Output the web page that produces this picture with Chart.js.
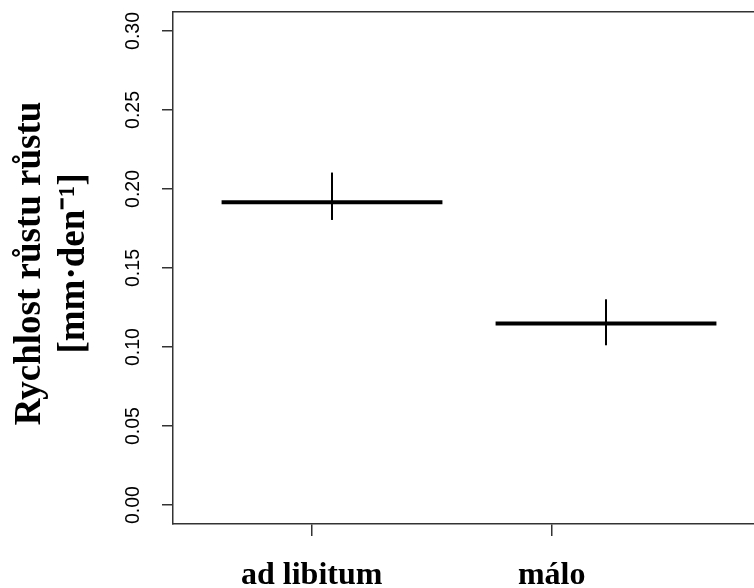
<!DOCTYPE html>
<html><head><meta charset="utf-8">
<script src="https://cdn.jsdelivr.net/npm/chart.js@4/dist/chart.umd.min.js"></script>
<style>html,body{margin:0;padding:0;overflow:hidden;background:#fff}#wrap{width:800px;height:588px}</style>
</head><body><div id="wrap"><canvas id="c"></canvas></div>
<script>
const categories = ['ad libitum', 'málo'];
const means = [0.1916, 0.1148];
const upper = [0.2104, 0.1302];
const lower = [0.1804, 0.1011];
const yTickValues = [0, 0.05, 0.10, 0.15, 0.20, 0.25, 0.30];
const yTickLabels = ['0.00', '0.05', '0.10', '0.15', '0.20', '0.25', '0.30'];
const yTitle = [' Rychlost růstu růstu', ' [mm·den⁻¹]'];

const HALF = 0.403;
const AXIS_COLOR = '#333';
const yLo = 0, yHi = 0.3, yPad = 0.04 * (yHi - yLo);

const datasets = [];
categories.forEach((c, i) => {
  datasets.push({
    data: [{x: i - HALF, y: means[i]}, {x: i + HALF, y: means[i]}],
    xAxisID: 'xm', yAxisID: 'y',
    borderColor: '#000', borderWidth: 4, pointRadius: 0, fill: false
  });
  datasets.push({
    data: [{x: i, y: lower[i]}, {x: i, y: upper[i]}],
    xAxisID: 'xm', yAxisID: 'y',
    borderColor: '#000', borderWidth: 2, pointRadius: 0, fill: false
  });
});

function noPad(s) { s.paddingLeft = 0; s.paddingRight = 0; s.paddingTop = 0; s.paddingBottom = 0; }

new Chart(document.getElementById('c'), {
  type: 'line',
  data: { datasets },
  options: {
    responsive: true, maintainAspectRatio: false, animation: false,
    layout: { padding: { top: 12, left: 0, right: 0, bottom: 0 } },
    plugins: { legend: { display: false }, tooltip: { enabled: false } },
    scales: {
      x: {
        type: 'linear', position: 'bottom', min: -0.578, max: 2.0345,
        afterBuildTicks: s => { s.ticks = categories.map((c, i) => ({ value: i })); },
        afterFit: s => { s.height = 64; noPad(s); },
        grid: { display: true, drawOnChartArea: false, drawTicks: true, tickLength: 12, color: AXIS_COLOR, lineWidth: 1.5 },
        border: { display: true, color: AXIS_COLOR, width: 1.5 },
        ticks: {
          autoSkip: false, maxRotation: 0, minRotation: 0, padding: 21, color: '#000',
          font: { family: "'Liberation Serif', 'Times New Roman', serif", size: 32, weight: 'bold' },
          callback: v => categories[Math.round(v)]
        }
      },
      xm: {
        type: 'linear', display: false, min: -0.5803, max: 1.708
      },
      x2: {
        type: 'linear', position: 'top',
        afterFit: s => { s.height = 0; noPad(s); },
        grid: { display: false, drawTicks: false, tickLength: 0 },
        border: { display: true, color: AXIS_COLOR, width: 1.5 },
        ticks: { display: false }
      },
      y: {
        type: 'linear', position: 'left', min: yLo - yPad, max: yHi + yPad,
        afterBuildTicks: s => { s.ticks = yTickValues.map(v => ({ value: v })); },
        afterFit: s => { s.width = 173; noPad(s); },
        grid: { display: true, drawOnChartArea: false, drawTicks: true, tickLength: 11, color: AXIS_COLOR, lineWidth: 1.5 },
        border: { display: true, color: AXIS_COLOR, width: 1.5 },
        ticks: {
          autoSkip: false, minRotation: 90, maxRotation: 90, crossAlign: 'center', padding: 9, color: '#000',
          font: { family: "'Liberation Sans', Arial, Helvetica, sans-serif", size: 19.5 },
          callback: (v, idx) => yTickLabels[idx]
        },
        title: {
          display: true, text: yTitle, color: '#000',
          padding: { top: 8, bottom: 0 },
          font: { family: "'Liberation Serif', 'Times New Roman', serif", size: 37, weight: 'bold', lineHeight: 1.2 }
        }
      }
    }
  }
});
</script>
</body></html>
